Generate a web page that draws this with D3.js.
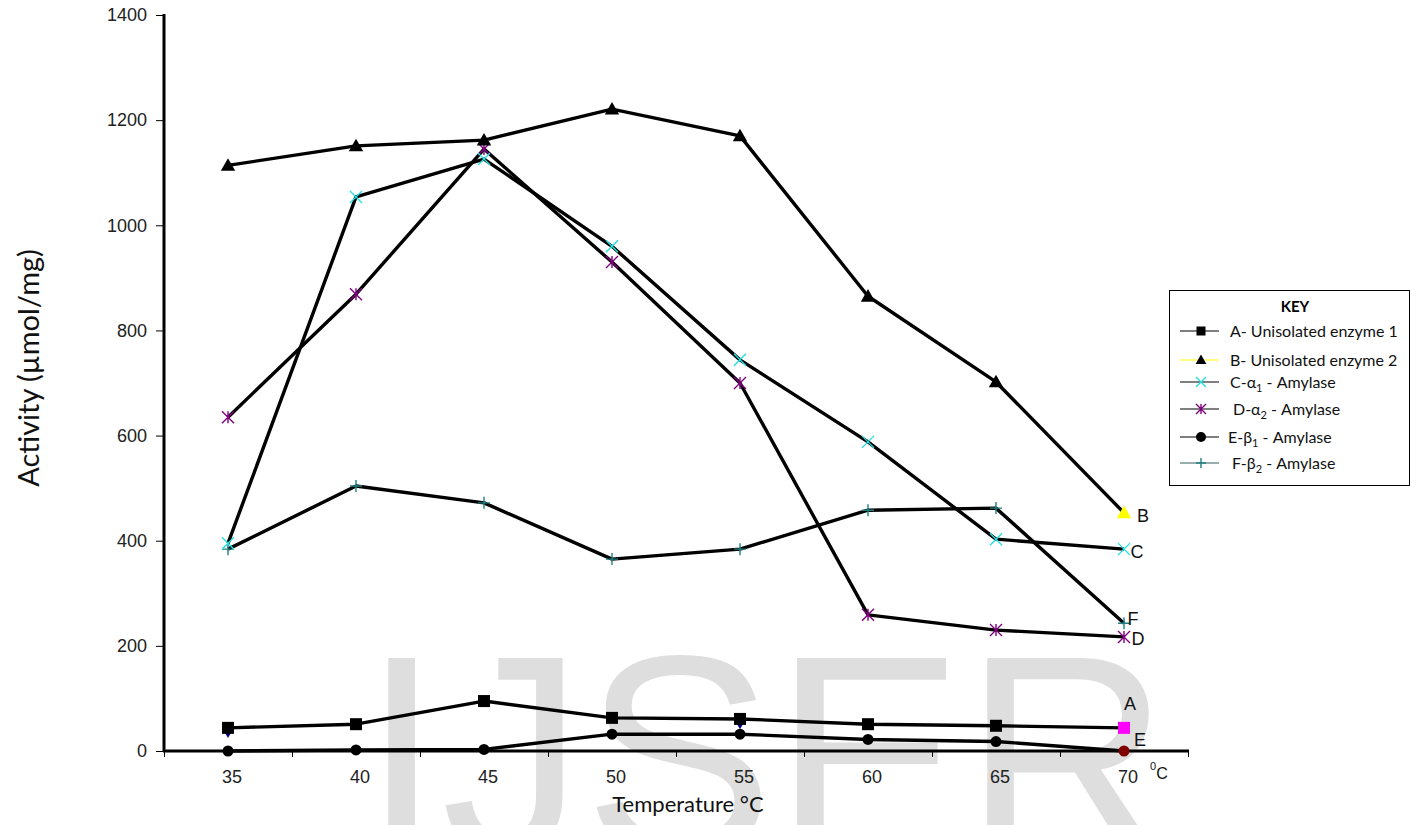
<!DOCTYPE html>
<html>
<head>
<meta charset="utf-8">
<script src="https://cdn.jsdelivr.net/npm/d3@7"></script>
<style>
  body { margin: 0; background: #fff; }
  svg { display: block; }
</style>
</head>
<body>
<svg id="chart"></svg>
<script>
// values (activity in umol/mg)
const temps = ["35", "40", "45", "50", "55", "60", "65", "70"];
const yTicks = [0, 200, 400, 600, 800, 1000, 1200, 1400];
const unisolated1 = [44, 51, 95, 63, 61, 51, 48, 44];
const unisolated2 = [1114, 1151, 1162, 1221, 1170, 865, 702, 453];
const alpha1 = [395, 1054, 1126, 960, 744, 588, 403, 384];
const alpha2 = [635, 869, 1145, 930, 700, 259, 230, 217];
const beta1 = [0, 2, 3, 32, 32, 22, 18, 0];
const beta2 = [384, 504, 472, 365, 384, 458, 462, 243];

const seriesKeys = ["A", "B", "C", "D", "E", "F"];
const seriesValues = [unisolated1, unisolated2, alpha1, alpha2, beta1, beta2];

const width = 1411, height = 825;
const margin = { left: 164, right: 223, top: 15, bottom: 74 };
const sansFont = "Liberation Sans, Arial, sans-serif";
const bodyFont = "Lato, Open Sans, sans-serif";

const svg = d3.select("#chart")
    .attr("width", width)
    .attr("height", height);

// watermark behind everything
svg.append("text")
    .attr("x", 362)
    .attr("y", 854)
    .attr("font-family", sansFont)
    .attr("font-size", 285)
    .attr("fill", "#dedede")
    .text("IJSER");

const xScale = d3.scaleBand()
    .domain(temps)
    .range([margin.left, width - margin.right]);

const xEdge = d3.scaleLinear()
    .domain([0, temps.length])
    .range([margin.left, width - margin.right]);

const yScale = d3.scaleLinear()
    .domain([0, 1400])
    .range([height - margin.bottom, margin.top]);

const cx = t => xScale(t) + xScale.bandwidth() / 2;

// y axis
const yAxisG = svg.append("g")
    .attr("transform", `translate(${margin.left},0)`)
    .call(d3.axisLeft(yScale).tickValues(yTicks).tickSize(8).tickPadding(9).tickFormat(d3.format("d")));
yAxisG.select(".domain").remove();
yAxisG.selectAll(".tick line").attr("stroke", "#000").attr("stroke-width", 1);
yAxisG.selectAll(".tick text")
    .attr("font-family", sansFont)
    .attr("font-size", 18)
    .attr("fill", "#222");
svg.append("line")
    .attr("x1", margin.left).attr("x2", margin.left)
    .attr("y1", yScale(1400) - 1).attr("y2", yScale(0))
    .attr("stroke", "#000").attr("stroke-width", 3);

// x axis: ticks between categories, labels at centers
const xTickG = svg.append("g")
    .attr("transform", `translate(0,${yScale(0)})`)
    .call(d3.axisBottom(xEdge).ticks(temps.length).tickSize(6).tickFormat(""));
xTickG.select(".domain").remove();
xTickG.selectAll(".tick line").attr("stroke", "#000").attr("stroke-width", 1);

const xLabG = svg.append("g")
    .attr("transform", `translate(0,${yScale(0)})`)
    .call(d3.axisBottom(xScale).tickSize(0).tickPadding(19));
xLabG.select(".domain").remove();
xLabG.selectAll(".tick text")
    .attr("dx", 4)
    .attr("font-family", sansFont)
    .attr("font-size", 18)
    .attr("fill", "#222");

// axis titles
svg.append("text")
    .attr("transform", `translate(32,${(yScale(0) + yScale(1400)) / 2 - 15}) rotate(-90)`)
    .attr("text-anchor", "middle")
    .attr("dominant-baseline", "middle")
    .attr("font-family", bodyFont)
    .attr("font-size", 29)
    .attr("fill", "#111")
    .text("Activity (µmol/mg)");

svg.append("text")
    .attr("x", 688)
    .attr("y", 812)
    .attr("text-anchor", "middle")
    .attr("font-family", bodyFont)
    .attr("font-size", 22)
    .attr("fill", "#111")
    .text("Temperature °C");

const unitLabel = svg.append("text")
    .attr("x", 1150)
    .attr("y", 779)
    .attr("font-family", sansFont)
    .attr("font-size", 16)
    .attr("fill", "#111");
unitLabel.append("tspan").attr("font-size", 11).attr("dy", -9).text("0");
unitLabel.append("tspan").attr("dy", 9).text("C");

// series lines
const line = d3.line()
    .x((d, i) => cx(temps[i]))
    .y(d => yScale(d));

// draw E first so the others sit over it, then the rest
const drawOrder = [4, 0, 5, 3, 2, 1];
drawOrder.forEach(k => {
  svg.append("path")
      .datum(seriesValues[k])
      .attr("fill", "none")
      .attr("stroke", "#000")
      .attr("stroke-width", 3.4)
      .attr("stroke-linejoin", "round")
      .attr("d", line);
});

// x axis line on top of E
svg.append("line")
    .attr("x1", margin.left - 1).attr("x2", width - margin.right + 1)
    .attr("y1", yScale(0)).attr("y2", yScale(0))
    .attr("stroke", "#000").attr("stroke-width", 3);

// marker drawing helper
function drawMarker(g, type, x, y, color, s) {
  if (type === "square") {
    g.append("rect").attr("x", x - s).attr("y", y - s)
        .attr("width", 2 * s).attr("height", 2 * s).attr("fill", color);
  } else if (type === "triangle") {
    g.append("path")
        .attr("d", `M${x},${y - s * 1.2}L${x + s * 1.2},${y + s * 0.9}L${x - s * 1.2},${y + s * 0.9}Z`)
        .attr("fill", color);
  } else if (type === "circle") {
    g.append("circle").attr("cx", x).attr("cy", y).attr("r", s).attr("fill", color);
  } else {
    let p = "";
    if (type === "x" || type === "star") {
      p += `M${x - s},${y - s}L${x + s},${y + s}M${x - s},${y + s}L${x + s},${y - s}`;
    }
    if (type === "star") p += `M${x},${y - s}L${x},${y + s}`;
    if (type === "plus") p += `M${x - s},${y}L${x + s},${y}M${x},${y - s}L${x},${y + s}`;
    g.append("path").attr("d", p).attr("stroke", color)
        .attr("stroke-width", 1.4).attr("fill", "none");
  }
}

const markerType = ["square", "triangle", "x", "star", "circle", "plus"];
const markerColor = ["#000", "#000", "#22e0e0", "#800080", "#000", "#208080"];
const lastColor = ["#ff00ff", "#ffff00", "#22e0e0", "#800080", "#800000", "#208080"];
const markerSize = [6, 6, 6, 6, 5.5, 6];

const markG = svg.append("g");
// small navy diamonds peeking under two squares
[0, 4].forEach(i => {
  markG.append("path")
      .attr("d", d3.symbol().type(d3.symbolDiamond).size(45)())
      .attr("transform", `translate(${cx(temps[i])},${yScale(unisolated1[i]) + 4})`)
      .attr("fill", "#000080");
});

drawOrder.forEach(k => {
  seriesValues[k].forEach((v, i) => {
    const last = i === temps.length - 1;
    drawMarker(markG, markerType[k], cx(temps[i]), yScale(v),
        last ? lastColor[k] : markerColor[k], markerSize[k]);
  });
});

// end labels
const endLabels = [
  { key: "A", dx: 6, dy: -23 },
  { key: "B", dx: 19, dy: 4 },
  { key: "C", dx: 13, dy: 4 },
  { key: "D", dx: 14, dy: 3 },
  { key: "E", dx: 16, dy: -10 },
  { key: "F", dx: 9, dy: -3 }
];
endLabels.forEach(lb => {
  const k = seriesKeys.indexOf(lb.key);
  svg.append("text")
      .attr("x", cx(temps[temps.length - 1]) + lb.dx)
      .attr("y", yScale(seriesValues[k][temps.length - 1]) + lb.dy)
      .attr("text-anchor", "middle")
      .attr("dominant-baseline", "middle")
      .attr("font-family", sansFont)
      .attr("font-size", 18)
      .attr("fill", "#111")
      .text(lb.key);
});

// legend
const legendNames = [
  ["A- Unisolated enzyme 1"],
  ["B- Unisolated enzyme 2"],
  ["C-α", "1", " - Amylase"],
  ["D-α", "2", " - Amylase"],
  ["E-β", "1", " - Amylase"],
  ["F-β", "2", " - Amylase"]
];
const legendLineColor = ["#000", "#ffff00", "#000", "#000", "#000", "#335f5f"];
const legendSymColor = ["#000", "#000", "#22e0e0", "#800080", "#000", "#208080"];
const legendY = [331, 360, 382, 409, 437, 463];
const legendTextX = [1230, 1230, 1230, 1233, 1228, 1232];

const leg = svg.append("g");
leg.append("rect")
    .attr("x", 1169.5).attr("y", 290.5)
    .attr("width", 240).attr("height", 195)
    .attr("fill", "#fff").attr("stroke", "#000").attr("stroke-width", 1);
leg.append("text")
    .attr("x", 1295).attr("y", 312)
    .attr("text-anchor", "middle")
    .attr("font-family", bodyFont)
    .attr("font-weight", "bold")
    .attr("font-size", 15)
    .text("KEY");

legendNames.forEach((parts, k) => {
  const y = legendY[k];
  leg.append("line")
      .attr("x1", 1180).attr("x2", 1219)
      .attr("y1", y).attr("y2", y)
      .attr("stroke", legendLineColor[k]).attr("stroke-width", 1.2);
  drawMarker(leg, markerType[k], 1201, y, legendSymColor[k], k < 2 ? 4.5 : 5);
  const t = leg.append("text")
      .attr("x", legendTextX[k])
      .attr("y", y + 5.5)
      .attr("font-family", bodyFont)
      .attr("font-size", 16)
      .attr("fill", "#111");
  t.append("tspan").text(parts[0]);
  if (parts.length > 1) {
    t.append("tspan").attr("font-size", 11).attr("dy", 4).text(parts[1]);
    t.append("tspan").attr("dy", -4).text(parts[2]);
  }
});
</script>
</body>
</html>
